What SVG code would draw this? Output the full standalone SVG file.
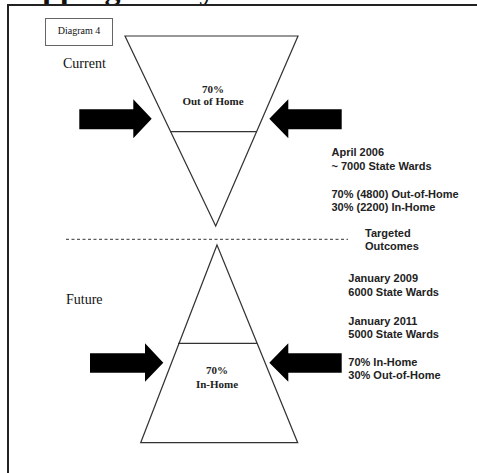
<svg xmlns="http://www.w3.org/2000/svg" width="477" height="473" viewBox="0 0 477 473">
<style>
.shape{fill:#fff;stroke:#333;stroke-width:1.2}
.arrow{fill:#000}
.serif{font-family:"Liberation Serif","Times New Roman",serif;fill:#111}
.sans{font-family:"Liberation Sans",Arial,sans-serif;font-weight:bold;font-size:11px;fill:#222}
.inner{font-family:"Liberation Serif","Times New Roman",serif;font-weight:bold;font-size:11px;fill:#222;text-anchor:middle}
</style>
<rect width="477" height="473" fill="#fff"/>
<text class="serif" x="-4" y="-1" font-size="32" font-weight="bold">Mapping a</text>
<text class="serif" x="153" y="-1" font-size="32" font-weight="bold">Way</text>
<path d="M8,473 V5 H477" fill="none" stroke="#222" stroke-width="2"/>
<g id="label-box">
<rect x="45.5" y="18.5" width="67" height="27" fill="#fff" stroke="#666" stroke-width="1"/>
<text class="serif" x="79" y="34" font-size="10" text-anchor="middle">Diagram 4</text>
</g>
<g id="current-label"><text class="serif" x="63" y="68" font-size="14">Current</text></g>
<g id="future-label"><text class="serif" x="66" y="304" font-size="14">Future</text></g>
<g id="current-funnel">
<polygon class="shape" points="125,36 298,36 215.7,226"/>
<line x1="170.7" y1="131.7" x2="256.5" y2="131.7" stroke="#333" stroke-width="1.2"/>
<text class="inner" x="213" y="93">70%</text>
<text class="inner" x="213" y="105">Out of Home</text>
</g>
<g id="future-pyramid">
<polygon class="shape" points="217,245 297.7,442.7 140.7,442.7"/>
<line x1="178" y1="343.3" x2="257" y2="343.3" stroke="#333" stroke-width="1.2"/>
<text class="inner" x="217" y="374">70%</text>
<text class="inner" x="217" y="388">In-Home</text>
</g>
<g id="connectors">
<line x1="66" y1="239.3" x2="348" y2="239.3" stroke="#333" stroke-width="1" stroke-dasharray="3,2.5"/>
<polygon class="arrow" points="79.3,109.3 133.3,109.3 133.3,99.3 151.7,118.7 133.3,138.3 133.3,129.3 79.3,129.3"/>
<polygon class="arrow" points="341.7,109.3 288.3,109.3 288.3,99.3 269.3,118.7 288.3,138.3 288.3,129.3 341.7,129.3"/>
<polygon class="arrow" points="90,353.3 145,353.3 145,343.3 163.3,362.7 145,381.7 145,372.7 90,372.7"/>
<polygon class="arrow" points="341.7,353.3 288.3,353.3 288.3,343.3 269.3,362.7 288.3,381.7 288.3,372.7 341.7,372.7"/>
</g>
<g id="current-stats">
<text class="sans" x="331.5" y="156">April 2006</text>
<text class="sans" x="331.5" y="169.5">~ 7000 State Wards</text>
<text class="sans" x="331.5" y="197.5">70% (4800) Out-of-Home</text>
<text class="sans" x="331.5" y="211">30% (2200) In-Home</text>
</g>
<g id="targeted">
<text class="sans" x="365" y="236.5">Targeted</text>
<text class="sans" x="365" y="250">Outcomes</text>
</g>
<g id="future-stats">
<text class="sans" x="348.3" y="281.7">January 2009</text>
<text class="sans" x="348.3" y="296">6000 State Wards</text>
<text class="sans" x="348.3" y="325">January 2011</text>
<text class="sans" x="348.3" y="338">5000 State Wards</text>
<text class="sans" x="348.3" y="365.7">70% In-Home</text>
<text class="sans" x="348.3" y="379.3">30% Out-of-Home</text>
</g>
</svg>
